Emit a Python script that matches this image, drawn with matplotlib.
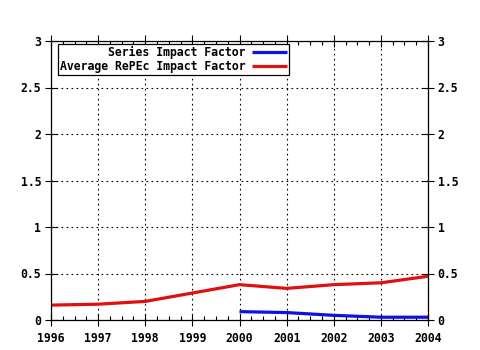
import matplotlib
matplotlib.use("Agg")
import matplotlib.pyplot as plt
from matplotlib.ticker import MultipleLocator

years = [1996, 1997, 1998, 1999, 2000, 2001, 2002, 2003, 2004]
avg_repec = [0.16, 0.17, 0.20, 0.29, 0.38, 0.34, 0.38, 0.40, 0.47]
series_years = [2000, 2001, 2002, 2003, 2004]
series_if = [0.09, 0.08, 0.05, 0.03, 0.03]
y_ticks = [0, 0.5, 1, 1.5, 2, 2.5, 3]
y_labels = ["0", "0.5", "1", "1.5", "2", "2.5", "3"]

plt.rcParams["font.family"] = ["DejaVu Sans Mono"]
plt.rcParams["font.weight"] = "bold"

fig = plt.figure(figsize=(4.8, 3.5), dpi=100)
ax = fig.add_axes([51 / 480, 30 / 350, 377 / 480, 279 / 350])

ax.plot(series_years, series_if, color="#1010e0", lw=2.3,
        label="Series Impact Factor", solid_capstyle="butt")
ax.plot(years, avg_repec, color="#e01010", lw=2.3,
        label="Average RePEc Impact Factor", solid_capstyle="butt")

ax.set_xlim(1996, 2004)
ax.set_ylim(0, 3)
ax.set_xticks(years)
ax.set_xticklabels([str(y) for y in years], fontsize=8.3, fontweight="bold")
ax.set_yticks(y_ticks)
ax.set_yticklabels(y_labels, fontsize=8.3, fontweight="bold")
ax.xaxis.set_minor_locator(MultipleLocator(0.25))

ax.tick_params(which="major", direction="inout", length=8, width=0.8,
               top=True, right=True, labelright=True, pad=3)
ax.tick_params(which="minor", direction="in", length=3, width=0.8,
               top=True, bottom=True)
ax.tick_params(axis="x", pad=5)

ax.grid(True, which="major", color="black", linestyle=(0, (1.5, 3)), lw=0.8)
for s in ax.spines.values():
    s.set_linewidth(0.9)

leg = ax.legend(loc="upper left", bbox_to_anchor=(58 / 480, 306 / 350),
                bbox_transform=fig.transFigure, markerfirst=False,
                fancybox=False, framealpha=1, edgecolor="black",
                prop={"family": "DejaVu Sans Mono", "weight": "bold", "size": 8.3},
                handlelength=3.0, handletextpad=0.6, borderpad=0.15,
                labelspacing=0.1, borderaxespad=0)
leg.get_frame().set_linewidth(0.9)

fig.savefig("out.png", dpi=100)
